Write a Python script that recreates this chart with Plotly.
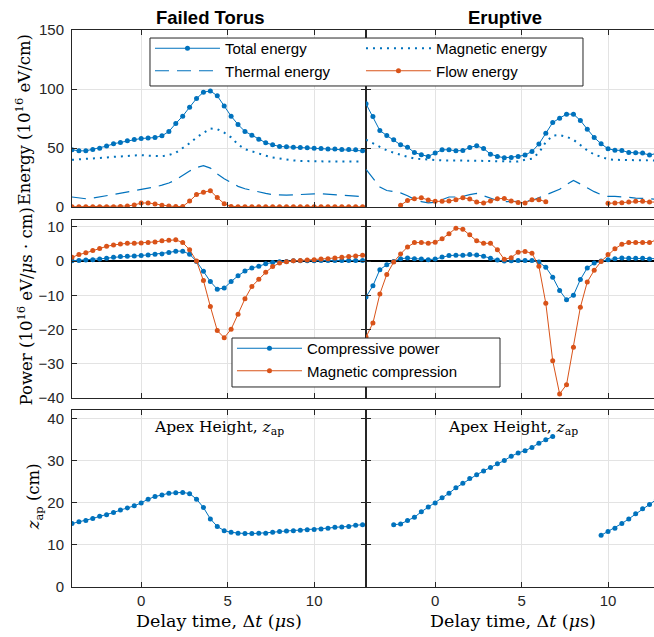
import plotly.graph_objects as go
from plotly.subplots import make_subplots

# delay time (us)
t = [-4.0, -3.6, -3.2, -2.8, -2.4, -2.0, -1.6, -1.2, -0.8, -0.4,
     0.0, 0.4, 0.8, 1.2, 1.6, 2.0, 2.4, 2.8, 3.2, 3.6,
     4.0, 4.4, 4.8, 5.2, 5.6, 6.0, 6.4, 6.8, 7.2, 7.6,
     8.0, 8.4, 8.8, 9.2, 9.6, 10.0, 10.4, 10.8, 11.2, 11.6,
     12.0, 12.4, 12.8]

# Failed torus
total_ft = [48.5, 47.6, 47.6, 48.8, 49.9, 51.6, 53.6, 54.7, 56.1, 57.2,
            58.1, 58.4, 58.9, 60.3, 64.0, 70.8, 77.0, 84.6, 91.9, 97.3,
            98.4, 94.2, 85.7, 77.0, 69.9, 64.0, 60.9, 57.5, 54.4, 52.7,
            51.3, 51.0, 50.7, 50.5, 50.2, 49.9, 49.6, 49.1, 49.1, 48.8,
            48.8, 48.5, 47.6]
mag_ft = [40, 40.3, 40.5, 41, 41.5, 42, 42.5, 43, 43.5, 44,
          44, 43.5, 43, 43, 44, 46, 50, 54, 59, 63,
          66.5, 66, 63, 59, 53, 49, 47, 45, 43.5, 42,
          41, 40, 39.5, 39, 38.8, 38.8, 38.5, 38.5, 38.5, 38.5,
          38.5, 38.5, 38.5]
thermal_ft = [8.5, 7.5, 7, 7.5, 8.5, 9.5, 11, 12, 13, 14,
              15, 16, 17, 18.5, 20.3, 23, 27, 30.5, 33.5, 35,
              33, 28, 24, 20.5, 17.5, 15.5, 14, 12.5, 11.5, 10.5,
              10, 10, 10.3, 10.7, 11, 11.2, 11.2, 10.8, 10.5, 10.2,
              10, 9.3, 8.5]
flow_ft = [0.2, 0.2, 0.2, 0.2, 0.2, 0.2, 0.3, 0.5, 0.8, 1.8,
           3.3, 3.5, 2.6, 1.5, 0.8, 0.4, 0.4, 5.0, 10.5, 12.5,
           13.8, 8.0, 2.8, 0.5, 0.2, 0.2, 0.2, 0.2, 0.2, 0.2,
           0.2, 0.2, 0.2, 0.2, 0.2, 0.2, 0.2, 0.2, 0.2, 0.2,
           0.2, 0.2, 0.2]
pcomp_ft = [0.1, 0.2, 0.3, 0.4, 0.6, 0.8, 1.1, 1.3, 1.4, 1.5,
            1.6, 1.8, 2.0, 2.1, 2.5, 2.9, 2.9, 2.0, -0.1, -3.0,
            -6.0, -8.2, -7.9, -6.0, -4.3, -2.9, -2.0, -1.5, -0.8, -0.4,
            -0.2, -0.1, 0.1, 0.1, 0.1, 0.1, 0.2, 0.2, 0.2, 0.2,
            0.2, 0.2, 0.2]
pmag_ft = [1.1, 1.9, 2.4, 3.1, 3.7, 4.3, 4.7, 5.0, 5.2, 5.2,
           5.3, 5.4, 5.6, 5.9, 6.1, 6.2, 5.4, 3.3, 0.0, -5.7,
           -13.3, -20.3, -22.4, -19.9, -15.5, -11.0, -7.4, -5.3, -3.3, -1.6,
           -0.6, -0.2, 0.1, 0.2, 0.3, 0.4, 0.6, 0.7, 0.9, 1.1,
           1.3, 1.5, 1.7]
apex_ft = [15.1, 15.5, 15.8, 16.3, 16.8, 17.2, 17.7, 18.3, 18.8, 19.3,
           20.0, 20.9, 21.5, 21.9, 22.3, 22.4, 22.5, 22.2, 20.9, 18.9,
           16.2, 14.4, 13.4, 13.0, 12.8, 12.7, 12.7, 12.8, 12.8, 13.0,
           13.2, 13.3, 13.4, 13.5, 13.6, 13.7, 13.8, 14.0, 14.2, 14.3,
           14.4, 14.7, 14.8]

# Eruptive
total_er = [87.4, 76.7, 64.8, 60.6, 56.9, 52.7, 50.7, 46.2, 44.3, 42.9,
            45.7, 48.5, 48.5, 47.6, 47.9, 50.5, 51.9, 49.6, 44.8, 42.9,
            41.7, 42.0, 42.9, 44.0, 47.1, 53.3, 62.6, 71.6, 75.3, 78.7,
            78.7, 73.3, 66.0, 58.9, 53.6, 49.3, 48.2, 47.9, 46.2, 46.0,
            45.7, 44.0, 45.4]
mag_er = [57, 54, 51, 48, 46, 44, 42.5, 41, 40.5, 40,
          39.5, 39.5, 39.5, 39.5, 39.5, 39.3, 39.3, 39.0, 39.0, 38.8,
          38.6, 38.5, 38.5, 40, 41, 46, 55, 60.5, 61, 59.5,
          57, 52.5, 48, 44.5, 42.5, 40.5, 40, 39.8, 39.6, 39.5,
          39.5, 39.4, 39.4]
thermal_er = [32, 24, 17, 14, 13, 12, 9.5, 6.5, 4.5, 3.5,
              4, 6.5, 8.5, 8.5, 9, 10.5, 11.5, 9.5, 7.5, 5.5,
              4.5, 4.5, 4.8, 5, 5.5, 8, 10.5, 12.5, 15, 19,
              22.5, 19.5, 16, 13, 10.5, 9, 9, 8.8, 8.2, 7.6,
              7.5, 7, 6.5]
flow_er = [None, None, None, None, None, 1.5, 5.5, 7.0, 7.9, 5.9,
           4.8, 4.8, 5.1, 6.2, 7.9, 6.8, 4.2, 3.4, 5.1, 7.0,
           7.3, 5.1, 3.9, 3.5, 6.2, 6.2, 4.5, None, None, None,
           None, None, None, None, None, 3.1, 3.4, 3.7, 4.2, 4.8,
           4.8, 4.2, 4.2]
pcomp_er = [-10.5, -7.2, -2.5, -1.1, -0.1, 0.7, 0.9, 0.7, 0.6, 0.4,
            0.6, 1.2, 1.6, 1.7, 1.7, 1.9, 1.8, 1.4, 0.8, 0.3,
            0.0, 0.1, 0.2, 0.2, 0.2, -0.3, -1.8, -4.7, -8.6, -11.3,
            -10.0, -5.4, -2.0, -0.6, 0.0, 0.4, 0.7, 0.9, 0.8, 0.8,
            0.8, 0.6, 0.7]
pmag_er = [-22.2, -18.1, -9.6, -3.9, -0.3, 2.1, 4.1, 5.4, 5.4, 5.2,
           5.5, 6.5, 8.0, 9.6, 9.3, 7.7, 5.9, 5.2, 5.2, 3.3,
           0.5, 1.0, 2.6, 2.8, 2.3, -1.5, -12.3, -29.1, -38.8, -36.1,
           -25.2, -13.5, -6.1, -2.7, -0.1, 1.9, 3.6, 4.9, 5.4, 5.4,
           5.4, 5.4, 6.2]
apex_er = [None, None, None, None, 14.8, 15.0, 15.8, 16.6, 17.9, 19.0,
           20.0, 21.2, 22.3, 23.6, 24.7, 25.8, 26.7, 27.6, 28.4, 29.3,
           30.1, 31.1, 31.9, 32.4, 33.2, 34.2, 35.0, 35.8, None, None,
           None, None, None, None, 12.3, 13.2, 14.0, 15.1, 16.2, 17.4,
           18.6, 19.6, 20.8]

BLUE = '#0072BD'
ORANGE = '#D95319'
AXC = '#262626'
GRID = '#e3e3e3'
SANS = 'Liberation Sans, Arial, sans-serif'
SERIF = 'DejaVu Serif, serif'

fig = make_subplots(rows=3, cols=2, horizontal_spacing=0, vertical_spacing=0.02)


def dots(y, color, name, row, col, legend='legend', show=False):
    return fig.add_trace(go.Scatter(x=t, y=y, name=name, mode='lines+markers',
                                    line=dict(color=color, width=1), marker=dict(color=color, size=5),
                                    legend=legend, showlegend=show), row=row, col=col)


def plain(y, color, name, dash, row, col, show=False, width=1.2):
    return fig.add_trace(go.Scatter(x=t, y=y, name=name, mode='lines',
                                    line=dict(color=color, width=width, dash=dash),
                                    showlegend=show), row=row, col=col)


for col, (tot, mag, th, fl) in enumerate([(total_ft, mag_ft, thermal_ft, flow_ft),
                                         (total_er, mag_er, thermal_er, flow_er)], start=1):
    show = col == 1
    dots(tot, BLUE, 'Total energy', 1, col, show=show)
    plain(mag, BLUE, 'Magnetic energy', '2px,5px', 1, col, show=show, width=2)
    plain(th, BLUE, 'Thermal energy', '14px,8px', 1, col, show=show)
    dots(fl, ORANGE, 'Flow energy', 1, col, show=show)

for col, (pc, pm) in enumerate([(pcomp_ft, pmag_ft), (pcomp_er, pmag_er)], start=1):
    show = col == 1
    dots(pc, BLUE, 'Compressive power', 2, col, legend='legend2', show=show)
    dots(pm, ORANGE, 'Magnetic compression', 2, col, legend='legend2', show=show)

dots(apex_ft, BLUE, 'Apex height', 3, 1)
dots(apex_er, BLUE, 'Apex height', 3, 2)

xdom = [[0, 0.5052], [0.5052, 1]]
ydom = [[0.6822, 1], [0.3393, 0.6589], [0, 0.3178]]
yranges = [[0, 150], [-40, 12], [0, 42.1]]
yticks = [[0, 50, 100, 150], [-40, -30, -20, -10, 0, 10], [0, 10, 20, 30, 40]]

axis_common = dict(showgrid=True, gridcolor=GRID, gridwidth=1, ticks='inside', ticklen=5,
                   tickcolor=AXC, showline=True, linecolor=AXC, linewidth=1, automargin=False,
                   tickfont=dict(family=SANS, size=15, color=AXC), zeroline=False)

n = 0
for r in range(3):
    for c in range(2):
        n += 1
        sfx = '' if n == 1 else str(n)
        fig.layout['xaxis' + sfx].update(
            domain=xdom[c], range=[-4, 13] if c == 0 else [-4, 12.66],
            tickvals=[0, 5, 10], showticklabels=(r == 2), mirror='ticks', **axis_common)
        yax = dict(axis_common)
        if r == 1:
            yax.update(zeroline=True, zerolinecolor='black', zerolinewidth=1.5)
        fig.layout['yaxis' + sfx].update(
            domain=ydom[r], range=yranges[r], tickvals=yticks[r],
            showticklabels=(c == 0), mirror='ticks' if c == 0 else False,
            ticklabelstandoff=4, **yax)

annotations = [
    dict(text='<b>Failed Torus</b>', xref='x', x=4.0, yref='paper', y=1.0233,
         font=dict(family=SANS, size=18.5, color='black')),
    dict(text='<b>Eruptive</b>', xref='x2', x=4.05, yref='paper', y=1.0233,
         font=dict(family=SANS, size=18.5, color='black')),
    dict(text='Energy (10<sup>16</sup> eV/cm)', xref='paper', x=-0.084, yref='paper', y=0.838,
         textangle=-90, font=dict(family=SERIF, size=16.5, color='black')),
    dict(text='Power (10<sup>16</sup> eV/<i>μ</i>s · cm)', xref='paper', x=-0.08, yref='paper', y=0.5045,
         textangle=-90, font=dict(family=SERIF, size=16.5, color='black')),
    dict(text='<i>z</i><sub>ap</sub> (cm)', xref='paper', x=-0.063, yref='paper', y=0.1616,
         textangle=-90, font=dict(family=SERIF, size=16.5, color='black')),
]
for xr in ['x5', 'x6']:
    annotations.append(dict(text='Apex Height, <i>z</i><sub>ap</sub>', xref=xr, x=4.5, yref='paper',
                            y=0.2855, font=dict(family=SERIF, size=15.5, color='black')))
    annotations.append(dict(text='Delay time, Δ<i>t</i> (<i>μ</i>s)', xref=xr, x=4.5, yref='paper',
                            y=-0.061, font=dict(family=SERIF, size=17.5, color='black')))
for a in annotations:
    a.update(showarrow=False, xanchor='center', yanchor='middle')

# legend boxes drawn as shapes so their size matches
shapes = [
    dict(type='rect', xref='paper', yref='paper', x0=0.134, x1=0.878, y0=0.8995, y1=0.9856,
         fillcolor='white', line=dict(color=AXC, width=1), layer='above'),
    dict(type='rect', xref='paper', yref='paper', x0=0.2749, x1=0.7354, y0=0.3591, y1=0.4470,
         fillcolor='white', line=dict(color=AXC, width=1), layer='above'),
]

fig.update_layout(
    width=654, height=637,
    margin=dict(l=72, r=0, t=30, b=50),
    paper_bgcolor='white', plot_bgcolor='white',
    annotations=annotations, shapes=shapes,
    legend=dict(orientation='h', x=0.134, y=0.9964, xanchor='left', yanchor='top',
                entrywidth=131, itemwidth=65, traceorder='normal',
                bgcolor='rgba(0,0,0,0)', borderwidth=0,
                font=dict(family=SANS, size=15, color='black')),
    legend2=dict(orientation='v', x=0.2749, y=0.4578, xanchor='left', yanchor='top',
                 itemwidth=65, traceorder='normal',
                 bgcolor='rgba(0,0,0,0)', borderwidth=0,
                 font=dict(family=SANS, size=15, color='black')),
)

# drop the default page margin so the figure sits at the window corner
fig.write_html("out.html", config={'displayModeBar': False},
               post_script="document.body.style.margin='0';document.body.style.overflow='hidden';")
